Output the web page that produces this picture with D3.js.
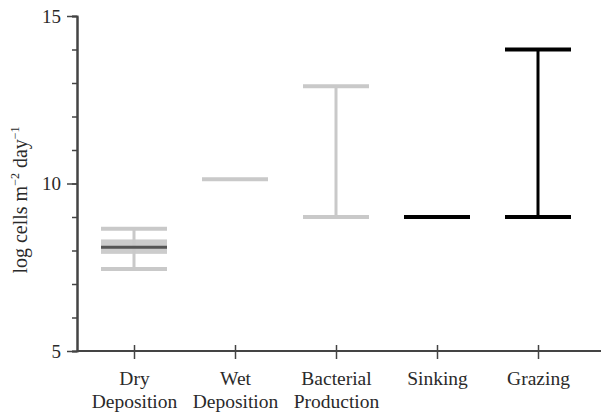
<!DOCTYPE html>
<html>
<head>
<meta charset="utf-8">
<script src="https://cdn.jsdelivr.net/npm/d3@7"></script>
<style>
  body { margin: 0; background: #fff; }
  svg { display: block; }
  text { font-family: "Liberation Serif", "Times New Roman", serif; fill: #2a2a2a; }
</style>
</head>
<body>
<div id="chart"></div>
<script>
// categories and ranges (log cells m-2 day-1)
var categories = ["Dry Deposition", "Wet Deposition", "Bacterial Production", "Sinking", "Grazing"];
var lowValues  = [7.45, 10.13, 9.0, 9.0, 9.0];
var highValues = [8.65, 10.13, 12.9, 9.0, 14.0];
// dry deposition: inner band and mean
var dryBand = [7.9, 8.33];
var dryMean = 8.1;
var yTicks = [5, 10, 15];

drawRanges("chart");

function drawRanges(divname) {
    var width = 601, height = 415;
    var serif = '"Liberation Serif", "Times New Roman", serif';
    var svg = d3.select("#" + divname).append("svg")
        .attr("width", width)
        .attr("height", height);

    var y = d3.scaleLinear().domain([5, 15]).range([351, 16]);
    var x = d3.scalePoint().domain(categories).range([134, 538]);
    var capHalf = 33;
    var colors = ["#c9c9c9", "#c9c9c9", "#c9c9c9", "#000", "#000"];

    var data = categories.map(function (c, i) {
        return { name: c, lo: lowValues[i], hi: highValues[i], color: colors[i] };
    });

    // dry deposition band
    svg.append("rect")
        .attr("x", x(categories[0]) - capHalf)
        .attr("y", y(dryBand[1]))
        .attr("width", capHalf * 2)
        .attr("height", y(dryBand[0]) - y(dryBand[1]))
        .attr("fill", "#cccccc");

    var g = svg.selectAll("g.range")
        .data(data)
        .enter()
        .append("g")
        .attr("class", "range");

    // vertical
    g.filter(function (d) { return d.hi > d.lo; })
        .append("line")
        .attr("x1", function (d) { return x(d.name); })
        .attr("x2", function (d) { return x(d.name); })
        .attr("y1", function (d) { return y(d.lo); })
        .attr("y2", function (d) { return y(d.hi); })
        .attr("stroke", function (d) { return d.color; })
        .attr("stroke-width", 3);

    // caps
    g.selectAll("line.cap")
        .data(function (d) {
            var v = d.hi > d.lo ? [d.lo, d.hi] : [d.lo];
            return v.map(function (val) { return { name: d.name, v: val, color: d.color }; });
        })
        .enter()
        .append("line")
        .attr("class", "cap")
        .attr("x1", function (d) { return x(d.name) - capHalf; })
        .attr("x2", function (d) { return x(d.name) + capHalf; })
        .attr("y1", function (d) { return y(d.v); })
        .attr("y2", function (d) { return y(d.v); })
        .attr("stroke", function (d) { return d.color; })
        .attr("stroke-width", 4);

    // dry mean
    svg.append("line")
        .attr("x1", x(categories[0]) - capHalf)
        .attr("x2", x(categories[0]) + capHalf)
        .attr("y1", y(dryMean))
        .attr("y2", y(dryMean))
        .attr("stroke", "#555")
        .attr("stroke-width", 3);

    // y axis
    var axisColor = "#444";
    var gy = svg.append("g").attr("transform", "translate(77,0)");
    gy.call(d3.axisLeft(y).tickValues(d3.range(5, 16)).tickSize(5).tickFormat(""));
    gy.append("g").call(d3.axisLeft(y).tickValues(yTicks).tickSize(10).tickPadding(6).tickSizeOuter(0));
    gy.selectAll("g").attr("font-family", serif);
    gy.attr("font-family", serif);
    gy.selectAll("path.domain").attr("stroke", axisColor).attr("stroke-width", 2);
    gy.selectAll(".tick line").attr("stroke", axisColor).attr("stroke-width", 1.5);
    gy.selectAll(".tick text")
        .style("font-family", serif)
        .style("font-size", "19px")
        .attr("fill", "#2a2a2a");

    // x axis
    svg.append("line")
        .attr("x1", 77).attr("x2", width)
        .attr("y1", y(5)).attr("y2", y(5))
        .attr("stroke", axisColor).attr("stroke-width", 2);
    var gx = svg.append("g").attr("transform", "translate(0," + y(5) + ")");
    gx.call(d3.axisBottom(x).tickSize(8).tickFormat(""));
    gx.attr("font-family", serif);
    gx.select("path.domain").remove();
    gx.selectAll(".tick line").attr("y1", -6).attr("stroke", axisColor).attr("stroke-width", 1.5);

    gx.selectAll(".tick").append("text")
        .attr("text-anchor", "middle")
        .style("font-family", serif)
        .style("font-size", "19.5px")
        .attr("fill", "#2a2a2a")
        .each(function (d) {
            var words = d.split(" ");
            var t = d3.select(this);
            words.forEach(function (w, i) {
                t.append("tspan").attr("x", 0).attr("y", 34 + i * 23).text(w);
            });
        });

    // y label
    var lab = svg.append("text")
        .attr("transform", "translate(27,200) rotate(-90)")
        .attr("text-anchor", "middle")
        .style("font-family", serif)
        .style("font-size", "20px");
    lab.append("tspan").text("log cells m");
    lab.append("tspan").attr("dy", -8).style("font-size", "12px").text("\u22122");
    lab.append("tspan").attr("dy", 8).text(" day");
    lab.append("tspan").attr("dy", -8).style("font-size", "12px").text("\u22121");
}
</script>
</body>
</html>
